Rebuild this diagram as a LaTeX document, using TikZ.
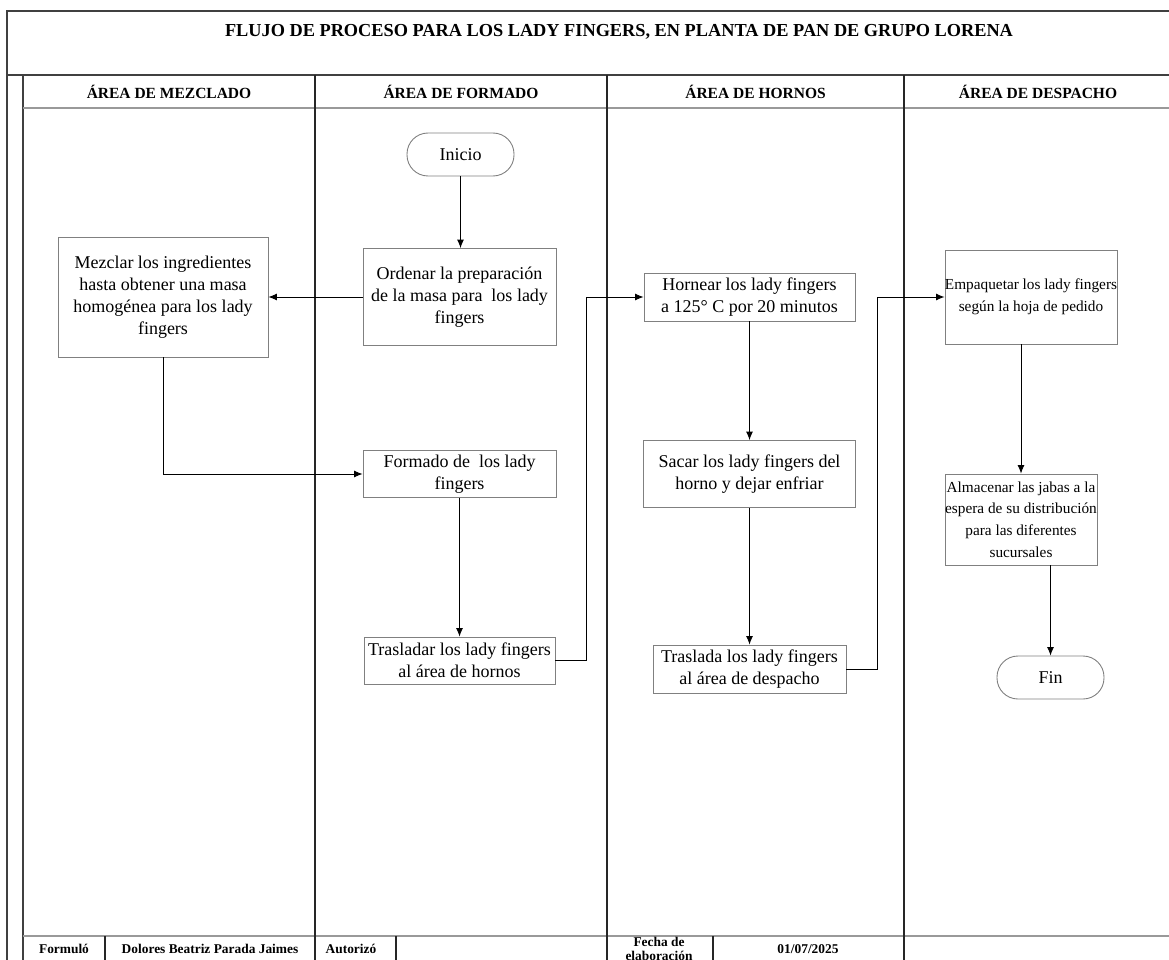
\documentclass[tikz,border=0pt]{standalone}
\usepackage{fontspec}
\setmainfont{Liberation Serif}
\usetikzlibrary{arrows.meta}
\begin{document}
\begin{tikzpicture}[x=1pt,y=-1pt,
  frameline/.style={draw=black!75,line width=1.6pt},
  softline/.style={draw=black!40,line width=1.6pt},
  laneline/.style={draw=black!85,line width=1.1pt},
  procbox/.style={draw=black!50,line width=0.9pt,inner sep=0pt,align=center,
    font=\fontsize{18}{22}\selectfont},
  smallbox/.style={procbox,font=\fontsize{15.3}{21.8}\selectfont},
  termbox/.style={procbox,rounded corners=21pt},
  arr/.style={draw=black,line width=0.9pt,-{Latex[length=8.5pt,width=7pt]}},
  titletext/.style={font=\bfseries\fontsize{18.3}{22}\selectfont,inner sep=0pt},
  headtext/.style={font=\bfseries\fontsize{15.5}{18}\selectfont,inner sep=0pt},
  foottext/.style={font=\bfseries\fontsize{13.4}{14.5}\selectfont,align=center,inner sep=0pt},
]
\useasboundingbox (0,0) rectangle (1169,960);
\clip (0,0) rectangle (1169,960);

% frame, title band and header row
\draw[frameline] (7,960) -- (7,11) -- (1180,11);
\draw[frameline] (7,75) -- (1180,75);
\draw[frameline] (23,75) -- (23,960);
\draw[softline] (23,108) -- (1180,108);
\draw[softline] (23,936) -- (1180,936);

% swimlane dividers
\draw[laneline] (315,75) -- (315,960);
\draw[laneline] (607,75) -- (607,960);
\draw[laneline] (904,75) -- (904,960);

% footer cells
\draw[laneline] (105,936) -- (105,960);
\draw[laneline] (396,936) -- (396,960);
\draw[laneline] (713,936) -- (713,960);

% title and lane headings
\node[titletext] (title) at (619,32) {FLUJO DE PROCESO PARA LOS LADY FINGERS, EN PLANTA DE PAN DE GRUPO LORENA};
\node[headtext] (h1) at (169,91.5) {ÁREA DE MEZCLADO};
\node[headtext] (h2) at (461,91.5) {ÁREA DE FORMADO};
\node[headtext] (h3) at (755.5,91.5) {ÁREA DE HORNOS};
\node[headtext] (h4) at (1038,91.5) {ÁREA DE DESPACHO};

% footer texts
\node[foottext] (f1) at (64,949) {Formuló};
\node[foottext] (f2) at (210,949) {Dolores Beatriz Parada Jaimes};
\node[foottext] (f3) at (351,949) {Autorizó};
\node[foottext] (f4) at (659,949) {Fecha de\\elaboración};
\node[foottext] (f5) at (808,949) {01/07/2025};

% process steps
\node[termbox,minimum width=107,minimum height=43] (inicio) at (460.5,154.5) {Inicio};
\node[procbox,minimum width=193,minimum height=97] (ordenar) at (459.5,297)
  {Ordenar la preparación\\de la masa para\ \ los lady\\fingers};
\node[procbox,minimum width=210,minimum height=120] (mezclar) at (163,297)
  {Mezclar los ingredientes\\hasta obtener una masa\\homogénea para los lady\\fingers};
\node[procbox,minimum width=193,minimum height=47] (formado) at (459.5,474)
  {Formado de\ \ los lady\\fingers};
\node[procbox,minimum width=191,minimum height=47] (trasladar) at (459.5,660.5)
  {Trasladar los lady fingers\\al área de hornos};
\node[procbox,minimum width=211,minimum height=48] (hornear) at (749.5,297)
  {Hornear los lady fingers\\a 125° C por 20 minutos};
\node[procbox,minimum width=212,minimum height=67] (sacar) at (749.5,474)
  {Sacar los lady fingers del\\horno y dejar enfriar};
\node[procbox,minimum width=193,minimum height=48] (traslada) at (749.5,669)
  {Traslada los lady fingers\\al área de despacho};
\node[smallbox,minimum width=172,minimum height=94] (empaquetar) at (1031,297)
  {Empaquetar los lady fingers\\según la hoja de pedido};
\node[smallbox,minimum width=152,minimum height=91] (almacenar) at (1021,519.5)
  {Almacenar las jabas a la\\espera de su distribución\\para las diferentes\\sucursales};
\node[termbox,minimum width=107,minimum height=43] (fin) at (1050.5,677.5) {Fin};

% junction columns for the lane-crossing connectors
\coordinate (hj) at (586,0);
\coordinate (dj) at (877,0);

% connectors
\draw[arr] (inicio.south) -- (inicio.south |- ordenar.north);
\draw[arr] (ordenar.west) -- (mezclar.east);
\draw[arr] (mezclar.south) |- (formado.west);
\draw[arr] (formado.south) -- (trasladar.north);
\draw[arr] (trasladar.east) -- (trasladar.east -| hj) -- (hj |- hornear.west) -- (hornear.west);
\draw[arr] (hornear.south) -- (sacar.north);
\draw[arr] (sacar.south) -- (traslada.north);
\draw[arr] (traslada.east) -- (traslada.east -| dj) -- (dj |- empaquetar.west) -- (empaquetar.west);
\draw[arr] (almacenar.north |- empaquetar.south) -- (almacenar.north);
\draw[arr] (almacenar.south -| fin.north) -- (fin.north);
\end{tikzpicture}
\end{document}
